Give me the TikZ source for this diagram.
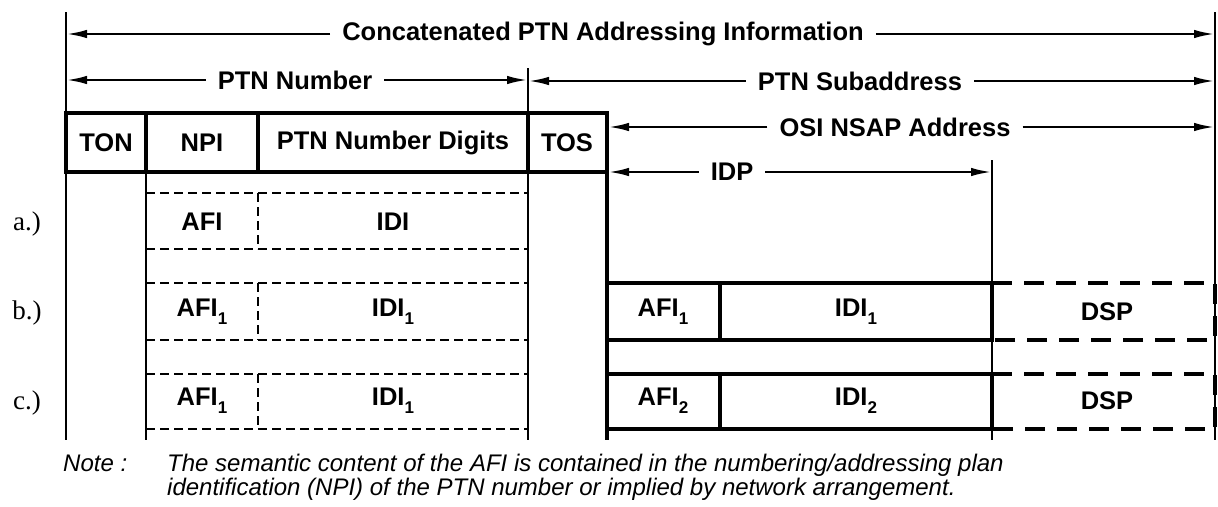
\documentclass[tikz,border=0pt]{standalone}
\usepackage{fontspec}
\setmainfont{Liberation Sans}
\newfontfamily\serifrm{Liberation Serif}
\usetikzlibrary{arrows.meta}
\newcommand{\lsub}[1]{\raisebox{-0.3em}{\fontsize{17}{17}\selectfont #1}}
\begin{document}
\begin{tikzpicture}[x=1pt,y=-1pt,
  lbl/.style={font=\bfseries\fontsize{25.5}{28}\selectfont, inner sep=0pt},
  dim/.style={line width=2pt, -{Latex[length=20pt,width=8.5pt]}},
  thinline/.style={line width=1.8pt},
  boxline/.style={line width=4.5pt},
  ldash/.style={line width=2.2pt, dash pattern=on 9pt off 5pt},
  hdash/.style={line width=4.5pt, dash pattern=on 20pt off 12pt},
  rowl/.style={font=\serifrm\fontsize{27}{29}\selectfont, inner sep=0pt},
  notet/.style={font=\itshape\fontsize{24}{25}\selectfont, inner sep=0pt, anchor=base west}]
\useasboundingbox (0,0) rectangle (1218,506);

% reference coordinates
\coordinate (catL) at (67,34);   \coordinate (catR) at (1214,34);
\coordinate (numL) at (67,80);   \coordinate (numR) at (527,80);
\coordinate (subL) at (529,81);  \coordinate (subR) at (1214,81);
\coordinate (osiL) at (609,127); \coordinate (osiR) at (1214,127);
\coordinate (idpL) at (609,172); \coordinate (idpR) at (991,172);

% vertical lines
\draw[thinline] (66,12) -- (66,440);
\draw[thinline] (1215,12) -- (1215,440);
\draw[thinline] (528,68) -- (528,440);
\draw[thinline] (146,172) -- (146,440);
\draw[thinline] (992,160) -- (992,440);
\draw[boxline] (607,113) -- (607,440);

% top box
\draw[boxline] (66,113) rectangle (607,172);
\draw[boxline] (146,113) -- (146,172);
\draw[boxline] (258,113) -- (258,172);
\draw[boxline] (528,113) -- (528,172);
\node[lbl] (ton) at (106,143) {TON};
\node[lbl] (npi) at (202,143) {NPI};
\node[lbl] (dig) at (393,143) {PTN Number Digits};
\node[lbl] (tos) at (567,143) {TOS};

% dimension arrows
\node[lbl] (cat) at (603,34) {Concatenated PTN Addressing Information};
\draw[dim] ([xshift=-12pt]cat.west) -- (catL);
\draw[dim] ([xshift=12pt]cat.east) -- (catR);
\node[lbl] (num) at (295,80) {PTN Number};
\draw[dim] ([xshift=-12pt]num.west) -- (numL);
\draw[dim] ([xshift=12pt]num.east) -- (numR);
\node[lbl] (sub) at (860,81) {PTN Subaddress};
\draw[dim] ([xshift=-12pt]sub.west) -- (subL);
\draw[dim] ([xshift=12pt]sub.east) -- (subR);
\node[lbl] (osi) at (895,127) {OSI NSAP Address};
\draw[dim] ([xshift=-12pt]osi.west) -- (osiL);
\draw[dim] ([xshift=12pt]osi.east) -- (osiR);
\node[lbl] (idp) at (732,172) {IDP};
\draw[dim] ([xshift=-12pt]idp.west) -- (idpL);
\draw[dim] ([xshift=12pt]idp.east) -- (idpR);

% left dashed rows
\foreach \t/\b in {193/249, 283/340, 374/429}{
  \draw[ldash] (146,\t) -- (528,\t);
  \draw[ldash] (146,\b) -- (528,\b);
  \draw[ldash] (258,\t) -- (258,\b);
}
\node[rowl] (ra) at (27,224) {a.)};
\node[rowl] (rb) at (27,313) {b.)};
\node[rowl] (rc) at (27,403) {c.)};
\node[lbl] (afia) at (202,222) {AFI};
\node[lbl] (idia) at (393,222) {IDI};
\node[lbl] (afib) at (202,312) {AFI\lsub{1}};
\node[lbl] (idib) at (393,312) {IDI\lsub{1}};
\node[lbl] (afic) at (202,401) {AFI\lsub{1}};
\node[lbl] (idic) at (393,401) {IDI\lsub{1}};

% right boxes b and c
\foreach \t/\b in {283/340, 374/429}{
  \draw[boxline] (607,\t) -- (992,\t) -- (992,\b) -- (607,\b);
  \draw[boxline] (720,\t) -- (720,\b);
  \draw[hdash] (992,\t) -- (1215,\t) -- (1215,\b) -- (992,\b);
}
\node[lbl] (afib2) at (663,312) {AFI\lsub{1}};
\node[lbl] (idib2) at (856,312) {IDI\lsub{1}};
\node[lbl] (dspb) at (1107,312) {DSP};
\node[lbl] (afic2) at (663,401) {AFI\lsub{2}};
\node[lbl] (idic2) at (856,401) {IDI\lsub{2}};
\node[lbl] (dspc) at (1107,401) {DSP};

% note
\node[notet] (notek) at (63,471) {Note :};
\node[notet] (note1) at (167,471) {The semantic content of the AFI is contained in the numbering/addressing plan};
\node[notet] (note2) at (167,495) {identification (NPI) of the PTN number or implied by network arrangement.};
\end{tikzpicture}
\end{document}
